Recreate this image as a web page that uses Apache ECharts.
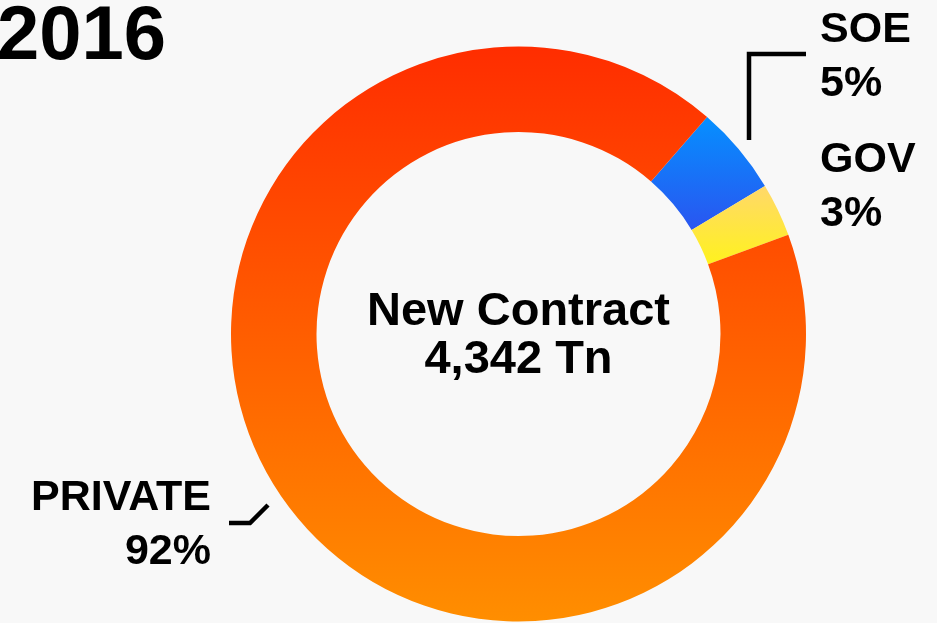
<!DOCTYPE html>
<html>
<head>
<meta charset="utf-8">
<script src="https://cdn.jsdelivr.net/npm/echarts@6/dist/echarts.min.js"></script>
<style>
  html, body { margin: 0; padding: 0; background: #f8f8f8; }
  #main { width: 937px; height: 623px; }
</style>
</head>
<body>
<div id="main"></div>
<script>
// data
var yearLabel = '2016'
var categories = ['SOE', 'GOV', 'PRIVATE']
var shares = [5, 3, 92]
var centerTitle = 'New Contract'
var centerValue = '4,342 Tn'

// gradient colours per slice, top -> bottom
var topColors = ['#0590ff', '#ffd86a', '#ff2d00']
var bottomColors = ['#2a55f0', '#fff21e', '#ff8e00']

var FONT = '"Liberation Sans", Arial, Helvetica, sans-serif'

// where each label goes (left/right column) and its leader line
var labelPos = [
  { x: 820, y: 3, align: 'left', line: [[749, 140], [749, 54], [806, 54]] },
  { x: 820, y: 133, align: 'left', line: null },
  { x: 211, y: 471, align: 'right', line: [[268, 505], [250, 523], [229, 523]] }
]

var chart = echarts.init(document.getElementById('main'))

var pieData = categories.map(function (name, i) {
  return {
    name: name,
    value: shares[i],
    itemStyle: {
      color: new echarts.graphic.LinearGradient(0, 0, 0, 1, [
        { offset: 0, color: topColors[i] },
        { offset: 1, color: bottomColors[i] }
      ])
    },
    labelLine: { show: !!labelPos[i].line }
  }
})

var option = {
  backgroundColor: '#f8f8f8',
  animation: false,
  title: {
    text: yearLabel,
    left: -8,
    top: -5,
    textStyle: {
      fontFamily: FONT,
      fontSize: 76,
      fontWeight: 'bold',
      color: '#000'
    }
  },
  graphic: [
    {
      type: 'text',
      x: 518.5,
      y: 336,
      style: {
        text: centerTitle + '\n' + centerValue,
        textAlign: 'center',
        textVerticalAlign: 'middle',
        fontFamily: FONT,
        fontSize: 47,
        fontWeight: 'bold',
        lineHeight: 48,
        fill: '#000'
      }
    }
  ],
  series: [
    {
      type: 'pie',
      center: [518.5, 334],
      radius: [202, 287.5],
      startAngle: 49,
      clockwise: true,
      percentPrecision: 0,
      emphasis: { disabled: true },
      label: {
        show: true,
        position: 'outside',
        formatter: '{b}\n{d}%',
        fontFamily: FONT,
        fontSize: 43,
        fontWeight: 'bold',
        lineHeight: 54,
        color: '#000',
        overflow: 'none'
      },
      labelLine: {
        show: true,
        lineStyle: { color: '#000', width: 4.5 }
      },
      labelLayout: function (params) {
        var p = labelPos[params.dataIndex]
        var out = {
          x: p.x,
          y: p.y,
          align: p.align,
          verticalAlign: 'top'
        }
        if (p.line) out.labelLinePoints = p.line
        return out
      },
      data: pieData
    }
  ]
}

chart.setOption(option)
</script>
</body>
</html>
